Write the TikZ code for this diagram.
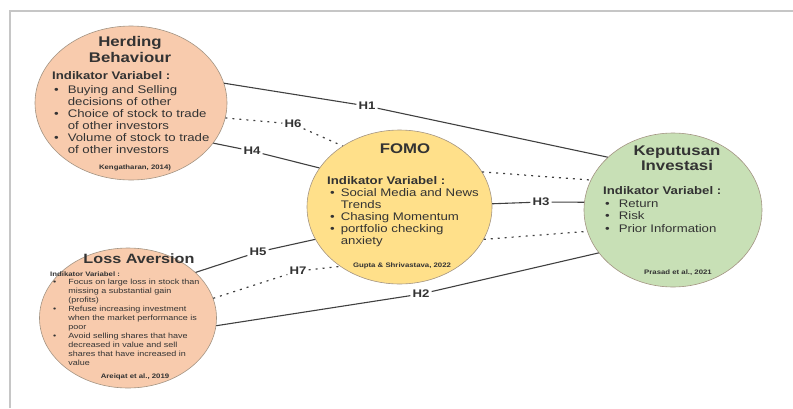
\documentclass[tikz,border=0pt]{standalone}
\usepackage{fontspec}
\setmainfont{Liberation Sans}[FakeStretch=1.2]
\usepackage{tikz}
\usetikzlibrary{calc,shapes.geometric,positioning}
\definecolor{peach}{HTML}{F8CBAD}
\definecolor{fomoyel}{HTML}{FFE08A}
\definecolor{kepgreen}{HTML}{C8E0B6}
\definecolor{rimgray}{HTML}{A39483}
\definecolor{txt}{HTML}{333333}
\definecolor{linegray}{HTML}{404040}
\newcommand{\bul}{\textbullet}

\begin{document}
\begin{tikzpicture}[x=1pt, y=-1pt]

\tikzset{
var/.style={ellipse, draw=rimgray, line width=0.6pt, inner sep=0pt},
vtitle/.style={anchor=base, inner sep=0pt, text=txt, font=\bfseries\fontsize{14}{16}\selectfont},
body/.style={anchor=base west, inner sep=0pt, text=txt},
cite/.style={inner sep=0pt, text=txt, font=\bfseries\fontsize{6.5}{7}\selectfont},
hlab/.style={inner sep=2pt, text=txt, font=\bfseries\fontsize{11}{12}\selectfont},
hpath/.style={draw=linegray, line width=1.1pt},
mediate/.style={draw=linegray, line width=1.2pt, dash pattern=on 2pt off 5pt}
}

\useasboundingbox (0,0) rectangle (793,408);

% Frame
\draw[gray!45, line width=1.5pt] (10,408) -- (10,11) -- (793,11);

% Nodes
\node[var, fill=peach, minimum width=192pt, minimum height=154pt] (herd) at (131,103) {};
\node[var, fill=peach, minimum width=177pt, minimum height=140pt] (loss) at (128,318) {};
\node[var, fill=fomoyel, minimum width=185pt, minimum height=154pt] (fomo) at (399.5,207) {};
\node[var, fill=kepgreen, minimum width=178pt, minimum height=154pt] (kep) at (673,210) {};

% Herding Behaviour
\node[vtitle] (herdtitle) at (130,46) {\begin{tabular}[t]{@{}c@{}}Herding\\Behaviour\end{tabular}};
\node[body] (herdbody) at (52,79) {\fontsize{11}{12}\selectfont
\begin{tabular}[t]{@{}l@{\hspace{9pt}}l@{}}
\multicolumn{2}{@{}l@{}}{\bfseries Indikator Variabel :}\\[2pt]
\hspace{2pt}\bul & Buying and Selling\\
 & decisions of other\\
\hspace{2pt}\bul & Choice of stock to trade\\
 & of other investors\\
\hspace{2pt}\bul & Volume of stock to trade\\
 & of other investors
\end{tabular}};
\node[cite] (herdcite) at (135,168) {Kengatharan, 2014)};

% FOMO
\node[vtitle] (fomotitle) at (405,153) {FOMO};
\node[body] (fomobody) at (327,184) {\fontsize{11}{12}\selectfont
\begin{tabular}[t]{@{}l@{\hspace{6pt}}l@{}}
\multicolumn{2}{@{}l@{}}{\bfseries Indikator Variabel :}\\
\hspace{3pt}\bul & Social Media and News\\
 & Trends\\
\hspace{3pt}\bul & Chasing Momentum\\
\hspace{3pt}\bul & portfolio checking\\
 & anxiety
\end{tabular}};
\node[cite] (fomocite) at (402,266) {Gupta \& Shrivastava, 2022};

% Keputusan Investasi
\node[vtitle, font=\bfseries\fontsize{14}{15}\selectfont] (keptitle) at (677,155) {\begin{tabular}[t]{@{}c@{}}Keputusan\\Investasi\end{tabular}};
\node[body] (kepbody) at (603,194) {\fontsize{11}{12.5}\selectfont
\begin{tabular}[t]{@{}l@{\hspace{9pt}}l@{}}
\multicolumn{2}{@{}l@{}}{\bfseries Indikator Variabel :}\\[0.5pt]
\hspace{2pt}\bul & Return\\
\hspace{2pt}\bul & Risk\\
\hspace{2pt}\bul & Prior Information
\end{tabular}};
\node[cite] (kepcite) at (678,273) {Prasad et al., 2021};

% Loss Aversion
\node[vtitle, font=\bfseries\fontsize{13.5}{15}\selectfont] (losstitle) at (139,263) {Loss Aversion};
\node[body] (lossbody) at (50,276) {\fontsize{7.5}{8.9}\selectfont
\begin{tabular}[t]{@{}l@{\hspace{12pt}}l@{}}
\multicolumn{2}{@{}l@{}}{\bfseries\fontsize{6.5}{8.9}\selectfont Indikator Variabel :}\\
\hspace{3pt}\bul & Focus on large loss in stock than\\
 & missing a substantial gain\\
 & (profits)\\
\hspace{3pt}\bul & Refuse increasing investment\\
 & when the market performance is\\
 & poor\\
\hspace{3pt}\bul & Avoid selling shares that have\\
 & decreased in value and sell\\
 & shares that have increased in\\
 & value
\end{tabular}};
\node[cite] (losscite) at (135,377) {Areiqat et al., 2019};

% Labels
\node[hlab] (h1) at (367,106) {H1};
\node[hlab] (h2) at (421,294) {H2};
\node[hlab] (h3) at (541,202) {H3};
\node[hlab] (h4) at (252,151) {H4};
\node[hlab] (h5) at (258,252) {H5};
\node[hlab] (h6) at (293,124) {H6};
\node[hlab] (h7) at (298,271) {H7};

% Arrows
\draw[hpath] (herd.12) -- (h1) -- (kep.141);
\draw[hpath] (herd.-26) -- (h4) -- (fomo.154);
\draw[mediate] (herd.-9) -- (h6) -- (fomo.133);
\draw[mediate] (fomo.23) -- (kep.160);
\draw[hpath] (fomo.2) -- (h3) -- (kep.175);
\draw[mediate] (fomo.-21) -- (kep.194);
\draw[hpath] (loss.34) -- (h5) -- (fomo.201);
\draw[mediate] (loss.13) -- (h7) -- (fomo.225);
\draw[hpath] (loss.-5) -- (h2) -- (kep.210);

\end{tikzpicture}
\end{document}
